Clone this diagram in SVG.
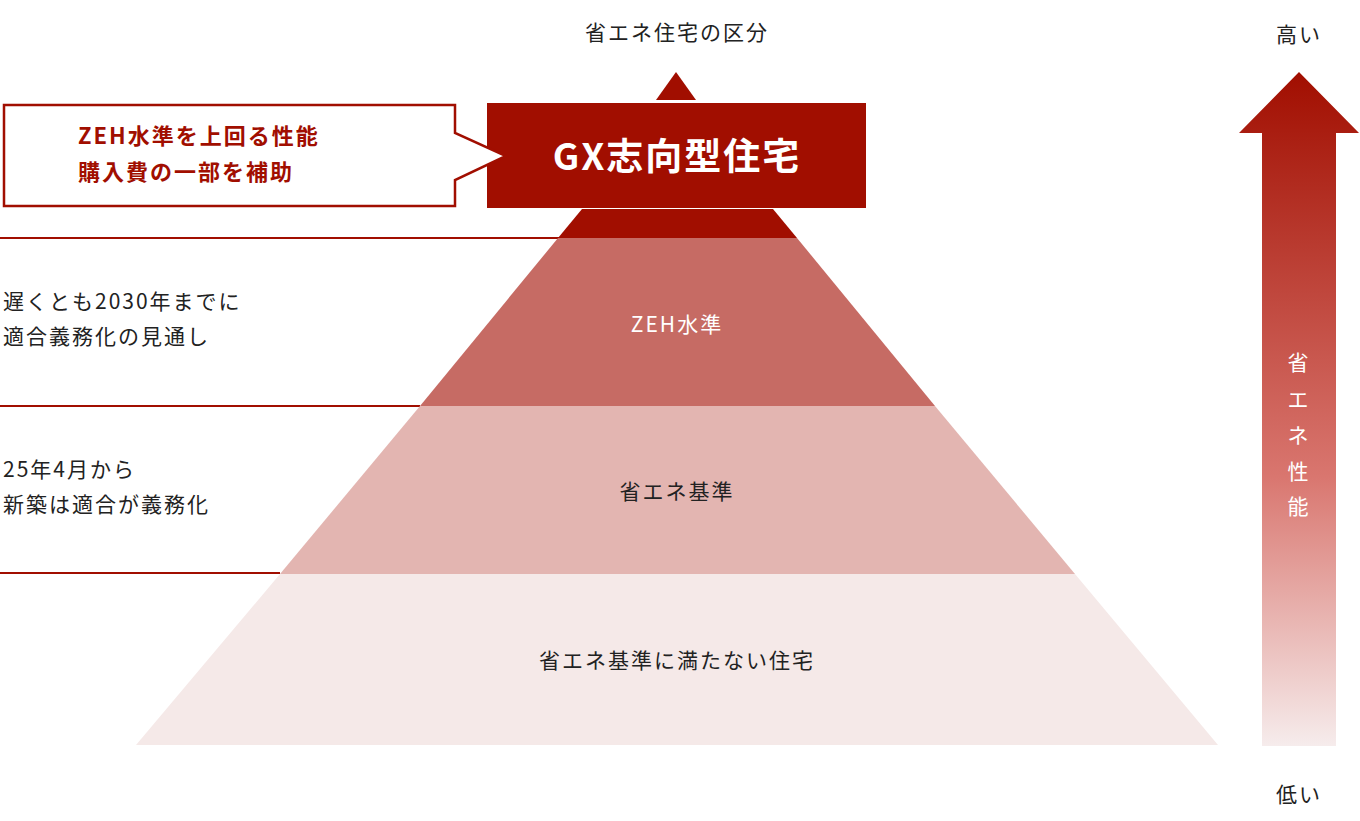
<svg xmlns="http://www.w3.org/2000/svg" width="1360" height="821" viewBox="0 0 1360 821">
<style>
text{font-family:"Noto Sans CJK JP","Noto Sans",sans-serif;fill:#222;letter-spacing:2px}
.s{font-size:21px}
.w{fill:#fff}
.r{fill:#a10e00;font-weight:bold;font-size:22px}
.ln{stroke:#a10e00;stroke-width:2}
</style>
<defs><linearGradient id="g" x1="0" y1="0" x2="0" y2="1"><stop offset="0" stop-color="#a10e00"/><stop offset="0.6" stop-color="#d9766f"/><stop offset="1" stop-color="#f6ecec"/></linearGradient></defs>
<rect width="1360" height="821" fill="#fff"/>
<text x="677" y="40" class="s" text-anchor="middle">省エネ住宅の区分</text>
<g id="connectors">
<line class="ln" x1="0" y1="238" x2="560" y2="238"/>
<line class="ln" x1="0" y1="406" x2="420" y2="406"/>
<line class="ln" x1="0" y1="573" x2="280" y2="573"/>
</g>
<g id="bottom"><polygon points="280,574 1075,574 1218,745 136,745" fill="#f5e9e8"/><text x="677" y="668" class="s" text-anchor="middle">省エネ基準に満たない住宅</text></g>
<g id="std"><polygon points="420,406 935,406 1075,574 280,574" fill="#e3b5b1"/><text x="677" y="499" class="s" text-anchor="middle">省エネ基準</text></g>
<g id="zeh"><polygon points="558,238 797,238 935,406 420,406" fill="#c66b64"/><text x="677" y="332" class="s w" text-anchor="middle">ZEH水準</text></g>
<g id="gx">
<polygon points="582,209 773,209 797,238 558,238" fill="#a10e00"/>
<polygon points="676,72 696,100 656,100" fill="#a10e00"/>
<rect x="487" y="103" width="379" height="105" fill="#a10e00"/>
<text x="677" y="170" text-anchor="middle" font-size="37" font-weight="bold" class="w" letter-spacing="4">GX志向型住宅</text>
</g>
<g id="callout">
<path d="M4,105 H455 V133 L506,156 L455,180 V206 H4 Z" fill="#fff" stroke="#a10e00" stroke-width="2.5"/>
<text x="78" y="144" class="r">ZEH水準を上回る性能</text>
<text x="78" y="180" class="r">購入費の一部を補助</text>
</g>
<g id="note1"><text x="3" y="309" class="s" letter-spacing="0">遅くとも2030年までに</text><text x="3" y="344" class="s" letter-spacing="0">適合義務化の見通し</text></g>
<g id="note2"><text x="3" y="477" class="s" letter-spacing="0">25年4月から</text><text x="3" y="512" class="s" letter-spacing="0">新築は適合が義務化</text></g>
<g id="arrow">
<polygon points="1299,72 1359,133 1336,133 1336,746 1262,746 1262,133 1239,133" fill="url(#g)"/>
<text x="1299" y="370" class="s w" text-anchor="middle">省</text>
<text x="1299" y="407" class="s w" text-anchor="middle">エ</text>
<text x="1299" y="443" class="s w" text-anchor="middle">ネ</text>
<text x="1299" y="479" class="s w" text-anchor="middle">性</text>
<text x="1299" y="514" class="s w" text-anchor="middle">能</text>
</g>
<text x="1299" y="42" class="s" text-anchor="middle" font-size="24">高い</text>
<text x="1299" y="802" class="s" text-anchor="middle" font-size="24">低い</text>
</svg>
